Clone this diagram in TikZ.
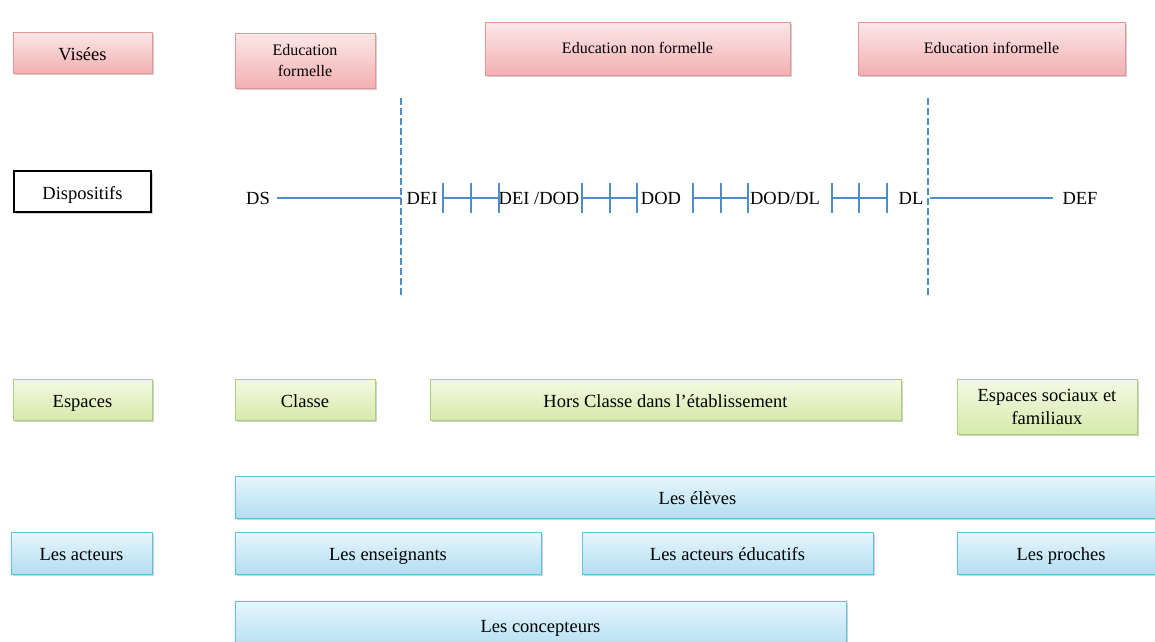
\documentclass[tikz,border=0pt]{standalone}
\usepackage{fontspec}
\setmainfont{Liberation Serif}
\usetikzlibrary{shadows}
\definecolor{pinkTop}{RGB}{252,232,232}
\definecolor{pinkBot}{RGB}{242,176,178}
\definecolor{pinkLine}{RGB}{226,150,152}
\definecolor{greenTop}{RGB}{244,249,228}
\definecolor{greenBot}{RGB}{214,234,172}
\definecolor{greenLine}{RGB}{170,206,122}
\definecolor{blueTop}{RGB}{232,246,252}
\definecolor{blueBot}{RGB}{178,222,242}
\definecolor{blueLine}{RGB}{96,192,226}
\definecolor{axis}{RGB}{78,142,200}
\tikzset{
  box/.style={rectangle, inner sep=0pt, align=center, line width=0.8pt,
    font=\fontsize{18.5}{23}\selectfont, text=black,
    drop shadow={shadow xshift=1.5pt, shadow yshift=-2pt, opacity=0.3, fill=black!60}},
  oneline/.style={text height=17pt, text depth=2pt},
  smallone/.style={font=\fontsize{16}{19}\selectfont, text height=12pt, text depth=2pt},
  pinkbox/.style={box, draw=pinkLine, top color=pinkTop, bottom color=pinkBot},
  greenbox/.style={box, draw=greenLine, top color=greenTop, bottom color=greenBot},
  bluebox/.style={box, oneline, draw=blueLine, top color=blueTop, bottom color=blueBot},
  small/.style={font=\fontsize{16}{21.5}\selectfont},
  lbl/.style={inner sep=0pt, text height=14.7pt, text depth=2pt, font=\fontsize{18.5}{21}\selectfont, text=black},
  axisline/.style={draw=axis, line width=2.5pt},
  sep/.style={draw=axis, line width=2.5pt, dash pattern=on 7pt off 3pt},
  tick/.style={draw=axis, line width=2.5pt}
}
\newcommand{\tickgroup}[4]{% name, left x, mid x, right x
  \coordinate (#1l) at (#2,198);
  \coordinate (#1m) at (#3,198);
  \coordinate (#1r) at (#4,198);
  \draw[tick] (#1l) -- (#1r);
  \foreach \p in {#1l,#1m,#1r} \draw[tick] ([yshift=-15pt]\p) -- ([yshift=15pt]\p);
}
\begin{document}
\begin{tikzpicture}[x=1pt,y=-1pt]
\useasboundingbox (0,0) rectangle (1155,641);
\clip (0,0) rectangle (1155,641);

% Visées row
\node[pinkbox, oneline, minimum width=139pt, minimum height=41pt] (vis) at (82.5,52.5) {Visées};
\node[pinkbox, small, minimum width=140pt, minimum height=55pt] (eform) at (305,60.5) {Education\\formelle};
\node[pinkbox, smallone, minimum width=305pt, minimum height=53pt] (enf) at (637.5,48.5) {Education non formelle};
\node[pinkbox, smallone, minimum width=267pt, minimum height=53pt] (einf) at (991.5,48.5) {Education informelle};

% Dispositifs row
\node[box, oneline, draw=black, line width=2.6pt, fill=white, drop shadow={opacity=0}, minimum width=137pt, minimum height=41pt] (disp) at (82.5,191.5) {Dispositifs};

\coordinate (sepAtop) at (401,98);
\coordinate (sepAbot) at (401,297);
\coordinate (sepBtop) at (928,98);
\coordinate (sepBbot) at (928,297);
\draw[sep] (sepAtop) -- (sepAbot);
\draw[sep] (sepBtop) -- (sepBbot);

\node[lbl] (ds) at (258,198) {DS};
\node[lbl] (dei) at (422,198) {DEI};
\node[lbl] (deidod) at (539,198) {DEI /DOD};
\node[lbl] (dod) at (661,198) {DOD};
\node[lbl] (doddl) at (785,198) {DOD/DL};
\node[lbl] (dl) at (911,198) {DL};
\node[lbl] (def) at (1080,198) {DEF};

\coordinate (dsEnd) at (277,198);
\coordinate (sepAmid) at (401,198);
\coordinate (sepBmid) at (930,198);
\coordinate (defStart) at (1053,198);
\draw[axisline] (dsEnd) -- (sepAmid);
\draw[axisline] (sepBmid) -- (defStart);

\tickgroup{ta}{443}{471}{499}
\tickgroup{tb}{582}{610}{637}
\tickgroup{tc}{693}{721}{748}
\tickgroup{td}{832}{859}{887}

% Espaces row
\node[greenbox, oneline, minimum width=139pt, minimum height=41pt] (esp) at (82.5,399.5) {Espaces};
\node[greenbox, oneline, minimum width=140pt, minimum height=41pt] (classe) at (305,399.5) {Classe};
\node[greenbox, oneline, minimum width=471pt, minimum height=41pt] (hors) at (665.5,399.5) {Hors Classe dans l’établissement};
\node[greenbox, minimum width=180pt, minimum height=55pt] (esf) at (1047,406.5) {Espaces sociaux et\\familiaux};

% Acteurs rows
\node[bluebox, minimum width=925pt, minimum height=42pt] (eleves) at (697.5,497) {Les élèves};
\node[bluebox, minimum width=141pt, minimum height=42pt] (acteurs) at (81.5,553) {Les acteurs};
\node[bluebox, minimum width=306pt, minimum height=42pt] (ens) at (388,553) {Les enseignants};
\node[bluebox, minimum width=291pt, minimum height=42pt] (aed) at (727.5,553) {Les acteurs éducatifs};
\node[bluebox, minimum width=208pt, minimum height=42pt] (proches) at (1061,553) {Les proches};
\node[bluebox, minimum width=611pt, minimum height=48pt] (concept) at (540.5,625) {Les concepteurs};
\end{tikzpicture}
\end{document}
